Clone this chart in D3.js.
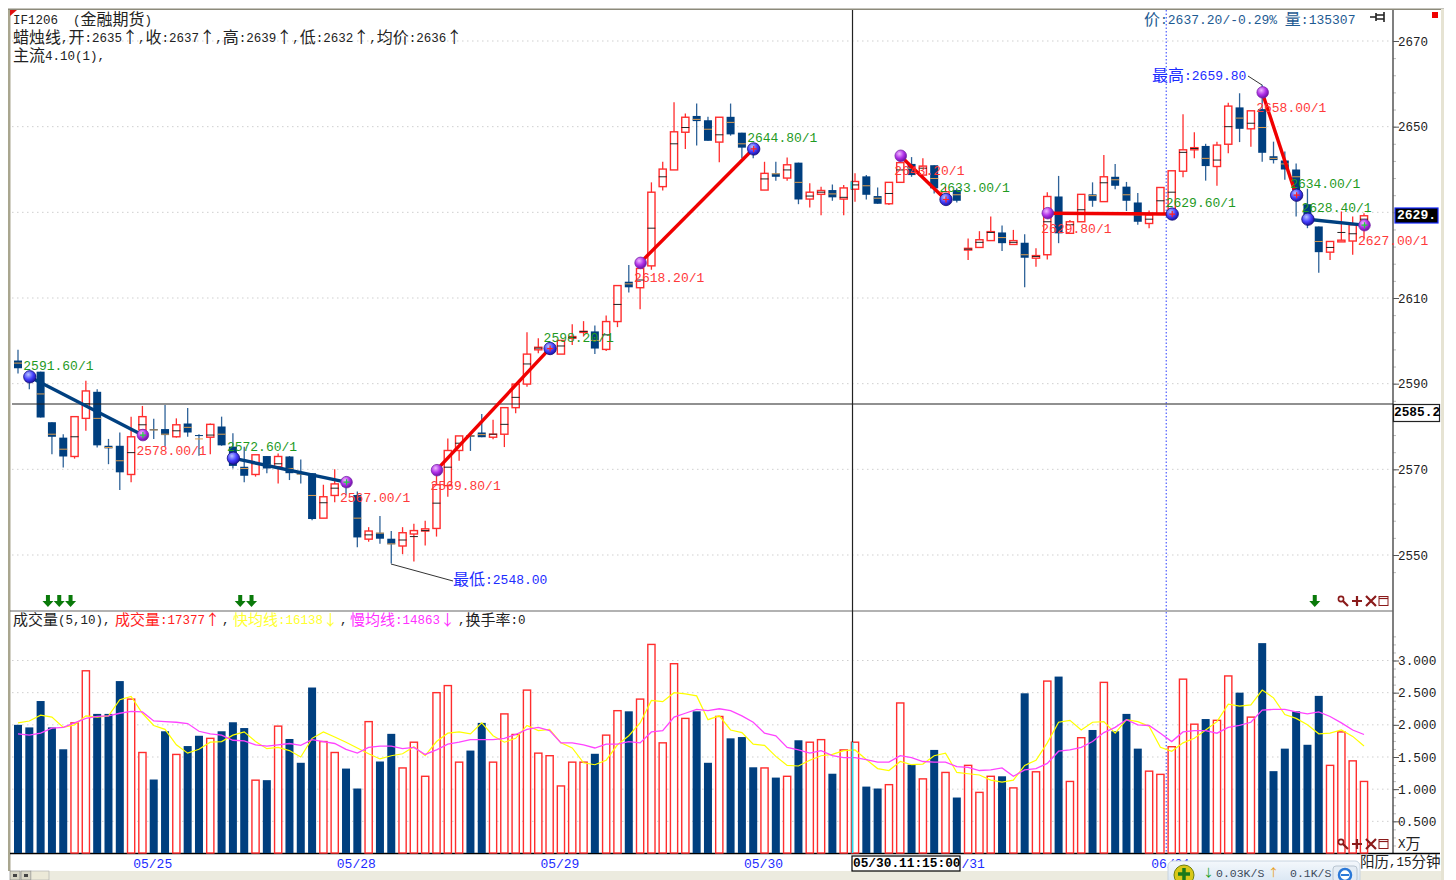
<!DOCTYPE html>
<html><head><meta charset="utf-8">
<script src="https://cdnjs.cloudflare.com/ajax/libs/d3/7.8.5/d3.min.js"></script>
<style>html,body{margin:0;padding:0;background:#fff}svg{display:block}</style>
</head><body><svg id="c" width="1456" height="880"></svg>
<script>
const highs=[2597.9,2592.8,2592.8,2581.0,2578.2,2582.3,2590.7,2588.7,2577.1,2578.6,2582.3,2584.8,2581.8,2585.0,2581.9,2584.3,2578.2,2580.7,2582.3,2578.4,2575.3,2573.4,2573.1,2573.7,2573.1,2572.3,2569.1,2566.4,2570.0,2568.3,2564.8,2556.5,2559.1,2555.6,2556.5,2557.3,2558.0,2568.7,2577.2,2577.8,2578.4,
2582.9,2581.6,2584.4,2589.9,2602.0,2600.6,2599.4,2600.1,2603.9,2604.6,2603.6,2605.9,2612.9,2617.7,2617.3,2637.0,2641.8,2655.7,2653.1,2655.4,2652.3,2652.2,2655.4,2648.6,2646.1,2641.8,2641.8,2642.8,2641.6,2636.8,2636.0,2636.5,2636.4,2639.1,2638.7,2635.8,2637.0,
2643.2,2642.9,2642.6,2641.0,2636.0,2635.6,2623.9,2625.6,2629.0,2626.9,2625.9,2624.9,2621.6,2634.7,2638.5,2628.2,2634.2,2637.0,2643.4,2641.3,2637.1,2634.5,2630.4,2635.8,2639.7,2652.9,2648.7,2646.0,2646.5,2655.6,2657.8,2653.7,2659.8,2646.5,2644.2,2641.4,2635.5,2626.7,2623.2,2630.2,2629.0,2629.8];
const lows=[2592.4,2588.7,2582.1,2573.5,2570.4,2572.5,2579.0,2575.1,2571.2,2565.2,2567.0,2576.9,2577.1,2575.3,2577.4,2577.6,2573.2,2573.5,2575.5,2570.2,2567.0,2568.3,2569.1,2566.7,2567.5,2566.7,2558.1,2558.6,2562.3,2564.0,2551.8,2553.1,2552.6,2548.0,2550.2,2548.5,2552.2,2554.3,2563.6,2572.0,2574.3,
2577.5,2577.0,2575.2,2583.1,2589.3,2597.1,2596.7,2596.9,2599.0,2601.0,2596.9,2597.6,2603.2,2611.3,2607.4,2616.6,2635.1,2639.9,2644.8,2645.6,2646.7,2641.7,2647.9,2642.6,2642.6,2635.2,2637.4,2637.4,2631.9,2631.1,2629.3,2632.7,2629.3,2632.5,2633.0,2632.0,2631.7,
2637.0,2638.3,2638.6,2634.4,2631.7,2632.3,2618.9,2621.8,2623.4,2621.0,2622.4,2612.5,2617.3,2619.0,2622.8,2625.0,2627.8,2631.3,2632.5,2635.4,2630.3,2627.1,2626.3,2629.5,2629.0,2638.2,2642.6,2637.4,2636.2,2643.8,2646.4,2645.3,2641.8,2641.4,2637.6,2629.0,2626.3,2615.9,2618.9,2623.1,2620.1,2623.9];
const tops=[2595.4,2592.4,2592.8,2581.0,2577.4,2582.3,2588.3,2588.1,2575.5,2575.5,2577.6,2582.3,2579.4,2579.4,2580.4,2580.7,2578.0,2580.5,2580.0,2575.3,2570.6,2573.4,2573.1,2573.0,2573.0,2569.2,2569.1,2563.6,2566.6,2567.5,2564.0,2555.6,2555.2,2553.8,2555.2,2555.7,2556.1,2566.4,2574.4,2577.8,2578.0,
2578.6,2578.2,2584.4,2589.9,2596.9,2598.5,2598.8,2600.1,2601.0,2602.2,2602.2,2604.5,2612.9,2613.8,2616.9,2634.7,2640.1,2648.8,2652.2,2652.5,2651.5,2652.2,2652.3,2648.6,2645.7,2639.1,2639.1,2641.1,2641.6,2634.7,2635.1,2635.2,2635.7,2637.2,2638.4,2633.8,2637.0,
2641.6,2641.3,2640.8,2641.0,2634.8,2635.2,2621.6,2623.6,2625.5,2625.3,2623.4,2622.9,2619.9,2633.7,2633.7,2627.8,2634.2,2634.2,2638.3,2638.3,2636.0,2632.3,2629.4,2635.8,2639.7,2644.6,2645.1,2645.5,2645.7,2654.8,2654.5,2653.7,2654.1,2643.1,2642.1,2640.0,2631.9,2626.7,2623.2,2623.5,2627.1,2629.2];
const bottoms=[2593.6,2590.9,2582.1,2577.6,2573.0,2573.0,2581.9,2575.6,2574.9,2569.3,2568.8,2579.2,2579.1,2578.0,2577.6,2578.6,2577.8,2577.5,2575.6,2570.8,2568.5,2568.8,2570.2,2570.6,2569.1,2568.8,2558.4,2558.6,2563.9,2566.0,2554.1,2553.7,2553.8,2552.5,2552.1,2554.9,2555.6,2556.2,2566.2,2574.4,2577.6,
2577.5,2577.5,2578.2,2584.4,2589.9,2597.9,2597.5,2596.9,2600.6,2602.0,2598.2,2598.0,2604.5,2612.5,2612.4,2617.5,2636.0,2639.9,2648.7,2651.3,2646.7,2646.4,2648.2,2645.1,2643.8,2635.2,2638.3,2638.0,2633.0,2633.1,2634.2,2633.5,2633.1,2635.4,2634.1,2632.0,2632.0,
2637.0,2638.7,2638.7,2635.6,2632.9,2632.7,2621.2,2621.8,2623.4,2622.8,2622.5,2619.4,2619.3,2620.1,2625.1,2625.1,2627.8,2632.7,2632.5,2636.2,2632.7,2627.8,2627.4,2629.5,2629.8,2639.6,2644.6,2640.8,2640.7,2645.9,2649.5,2649.5,2643.9,2642.2,2640.0,2635.2,2628.6,2620.7,2620.7,2623.1,2623.3,2627.8];
const avgPrice=[2594.8,2592.0,2587.6,2578.2,2574.7,2577.6,2585.3,2581.9,2575.1,2572.0,2573.9,2580.4,2579.2,2578.2,2579.0,2579.8,2577.1,2578.0,2578.2,2573.6,2570.2,2571.3,2571.0,2571.3,2570.2,2568.9,2563.9,2562.2,2565.6,2566.6,2558.6,2554.7,2555.1,2552.6,2553.5,2554.3,2555.7,2562.1,2570.5,2576.1,2577.8,
2578.1,2578.2,2580.5,2586.8,2594.6,2598.3,2598.3,2598.8,2600.8,2602.2,2600.1,2601.4,2608.5,2613.3,2614.2,2626.3,2638.3,2646.0,2649.8,2651.7,2649.4,2648.1,2651.0,2646.0,2645.0,2637.8,2639.0,2639.9,2637.0,2633.8,2634.7,2634.3,2633.5,2636.4,2636.2,2633.3,2634.4,
2639.9,2640.3,2640.3,2637.9,2634.1,2634.1,2621.4,2623.0,2625.3,2624.1,2623.0,2620.1,2619.7,2627.8,2629.8,2627.1,2630.6,2633.9,2636.9,2637.6,2634.1,2629.4,2628.4,2632.7,2634.7,2644.0,2644.9,2642.6,2642.2,2650.0,2652.0,2650.8,2649.8,2642.6,2641.3,2638.3,2629.4,2623.2,2621.8,2625.3,2625.0,2628.4];
const isUp=[0,0,0,0,0,1,1,0,0,0,1,1,0,0,1,0,0,1,0,0,0,1,0,1,0,0,0,1,1,0,0,1,0,0,1,1,1,1,1,1,0,
0,1,1,1,1,1,1,1,1,1,0,1,1,0,1,1,1,1,1,0,0,1,0,0,0,1,0,1,0,1,1,0,1,1,0,0,1,
1,0,1,0,1,0,1,1,1,0,1,0,1,1,0,1,1,0,1,0,0,0,1,1,1,1,1,0,1,1,0,1,0,0,0,0,0,0,1,1,1,1];
const volumes=[2.00,1.96,2.37,1.96,1.62,2.03,2.84,2.17,2.17,2.68,2.40,1.57,1.15,1.90,1.54,1.67,1.83,1.79,1.90,2.04,1.95,1.14,1.14,1.98,1.78,1.41,2.58,1.74,1.57,1.32,1.01,2.05,1.43,1.86,1.33,1.73,1.20,2.50,2.61,1.42,1.60,
2.03,1.42,2.17,1.85,2.54,1.56,1.52,1.05,1.42,1.42,1.55,1.84,2.22,2.21,2.40,3.25,1.72,2.95,2.10,2.21,1.41,2.13,1.79,1.81,1.34,1.33,1.18,1.20,1.76,1.73,1.77,1.24,1.61,1.73,1.04,1.01,1.07,2.34,1.38,1.16,1.61,1.26,0.87,
1.37,0.95,1.20,1.20,1.02,2.49,1.27,2.68,2.75,1.12,1.80,1.92,2.66,1.90,2.17,1.63,1.28,1.23,1.66,2.71,2.01,2.09,2.07,2.76,2.50,2.12,3.27,1.28,1.63,2.21,1.69,2.45,1.37,1.89,1.44,1.12];
const fastMA=[2.03,2.06,2.15,2.12,1.96,2.00,2.14,2.12,2.14,2.39,2.44,2.18,1.99,1.93,1.69,1.56,1.62,1.73,1.74,1.84,1.89,1.74,1.63,1.65,1.60,1.50,1.79,1.89,1.81,1.73,1.64,1.55,1.47,1.52,1.55,1.66,1.52,1.74,1.87,1.89,1.86,
2.03,1.83,1.73,1.79,1.99,1.91,1.93,1.72,1.64,1.41,1.38,1.45,1.69,1.83,2.03,2.38,2.36,2.50,2.48,2.45,2.08,2.14,1.92,1.88,1.70,1.68,1.51,1.37,1.36,1.45,1.52,1.54,1.60,1.61,1.46,1.32,1.29,1.43,1.38,1.39,1.52,1.56,1.26,
1.24,1.22,1.14,1.11,1.14,1.37,1.45,1.72,2.04,2.07,1.92,2.04,2.05,1.87,2.08,2.05,1.98,1.65,1.59,1.72,1.79,1.92,2.05,2.32,2.29,2.31,2.54,2.42,2.16,2.10,2.00,1.86,1.87,1.92,1.82,1.67];
const slowMA=[1.86,1.84,1.87,1.95,1.96,2.03,2.10,2.13,2.14,2.18,2.21,2.20,2.06,2.05,2.04,2.02,1.90,1.86,1.84,1.76,1.75,1.69,1.67,1.69,1.71,1.68,1.77,1.74,1.71,1.62,1.56,1.65,1.67,1.67,1.63,1.65,1.54,1.61,1.70,1.73,1.77,
1.77,1.77,1.79,1.85,1.93,1.96,1.91,1.72,1.72,1.69,1.64,1.70,1.70,1.74,1.72,1.89,1.91,2.12,2.18,2.24,2.22,2.25,2.22,2.14,2.04,1.87,1.83,1.65,1.61,1.56,1.60,1.52,1.49,1.49,1.46,1.42,1.42,1.52,1.49,1.43,1.42,1.42,1.35,
1.34,1.29,1.30,1.33,1.20,1.30,1.32,1.40,1.59,1.61,1.65,1.74,1.88,1.96,2.08,2.00,1.99,1.87,1.74,1.89,1.91,1.91,1.87,1.96,1.99,2.04,2.23,2.24,2.24,2.20,2.17,2.20,2.13,2.03,1.92,1.85];
const priceTicks=[2550,2570,2590,2610,2650,2670];
const priceGrid=[2550,2570,2590,2610,2630,2650,2670];
const volTicks=[0.5,1,1.5,2,2.5,3];
const dateIdx=[12,30,48,66,84,102];
const dateLabels=["05/25","05/28","05/29","05/30","/31","06/01"];
const seg=[{a:1,pa:2591.6,b:11,pb:2578.0,up:0},{a:19,pa:2572.6,b:29,pb:2567.0,up:0},{a:37,pa:2569.8,b:47,pb:2598.2,up:1},{a:55,pa:2618.2,b:65,pb:2644.8,up:1},{a:78,pa:2643.2,b:82,pb:2633.0,up:1},{a:91,pa:2629.8,b:102,pb:2629.6,up:1},{a:110,pa:2658.0,b:113,pb:2634.0,up:1},{a:114,pa:2628.4,b:119,pb:2627.0,up:0}];
const arrowIdx=[3,4,5,20,21,115];
const selectedIdx=74, blueCursorIdx=102, crossPrice=2585.2, lastPrice=2629.4;

const svg=d3.select("#c");
const x=d3.scaleLinear().domain([0,119]).range([18,1364]);
const yP=d3.scaleLinear().domain([2550,2670]).range([555,41]);
const yV=d3.scaleLinear().domain([0,3]).range([853.5,660.5]);
const RED="#ff2d2d",NAVY="#003f7f",MONO="'Liberation Mono',monospace",CJK="'Noto Sans CJK SC',sans-serif";
function txt(sel,s,px,py,o={}){
  const size=o.size||12.5, t=sel.append("text").attr("x",px).attr("y",py).attr("fill",o.fill||"#222").attr("font-weight",o.bold?"bold":"normal").attr("text-anchor",o.anchor||"start").attr("dominant-baseline","middle");
  (s.match(/[\u4e00-\u9fff\u2191\u2193]+|[^\u4e00-\u9fff\u2191\u2193]+/g)||[]).forEach(r=>{
    const c=/[\u4e00-\u9fff\u2191\u2193]/.test(r);
    t.append("tspan").attr("font-family",c?CJK:MONO).attr("font-size",c?(o.cjk||16):size).attr("xml:space","preserve").text(r);
  });
  return t;
}
const defs=svg.append("defs");
[["gBlue","#b8c4ff","#4640ff","#1a10a0"],["gPurple","#f0b8ff","#b030e8","#6a10a0"]].forEach(([id,a,b,c])=>{
  const g=defs.append("radialGradient").attr("id",id).attr("cx","38%").attr("cy","32%").attr("r","70%");
  g.append("stop").attr("offset","0%").attr("stop-color",a);
  g.append("stop").attr("offset","55%").attr("stop-color",b);
  g.append("stop").attr("offset","100%").attr("stop-color",c);
});
// chrome
svg.append("rect").attr("x",8).attr("y",9).attr("width",2.5).attr("height",862).attr("fill","#a9a68f");
svg.append("rect").attr("x",8).attr("y",8.5).attr("width",1436).attr("height",1.5).attr("fill","#8c8a7a");
svg.append("rect").attr("x",1441).attr("y",9).attr("width",3).attr("height",871).attr("fill","#e6e3d3");
svg.append("rect").attr("x",10).attr("y",871).attr("width",1431).attr("height",9).attr("fill","#ecebdf");
svg.append("path").attr("d","M10 10H17L10 16Z").attr("fill","#e01010");
svg.append("rect").attr("x",1432).attr("y",12).attr("width",6).attr("height",6).attr("fill","#f00000");
[[10,"#444"],[21,"#444"]].forEach(([bx,c])=>{svg.append("rect").attr("x",bx).attr("y",871).attr("width",10).attr("height",9).attr("fill","#d8d6c6").attr("stroke","#777").attr("stroke-width",.6);svg.append("rect").attr("x",bx+3).attr("y",874).attr("width",4).attr("height",3).attr("fill",c);});
svg.append("rect").attr("x",31).attr("y",871).attr("width",18).attr("height",9).attr("fill","#ece9d8").attr("stroke","#aaa").attr("stroke-width",.6);
// grids
const dot="1.5 3.5";
svg.append("g").selectAll("line").data(priceGrid).join("line").attr("x1",12).attr("x2",1393).attr("y1",d=>yP(d)).attr("y2",d=>yP(d)).attr("stroke","#cfcfcf").attr("stroke-dasharray",dot);
svg.append("g").selectAll("line").data(volTicks).join("line").attr("x1",12).attr("x2",1393).attr("y1",d=>yV(d)).attr("y2",d=>yV(d)).attr("stroke","#cfcfcf").attr("stroke-dasharray",dot);
// axes
const ax=svg.append("g").attr("transform","translate(1393,0)");
ax.call(d3.axisRight(yP).tickValues(d3.range(2546,2674,4)).tickSize(3).tickFormat(""));
ax.call(g=>{g.select(".domain").remove();g.selectAll("line").attr("stroke","#bbb");});
const ax2=svg.append("g").attr("transform","translate(1393,0)");
ax2.call(d3.axisRight(yP).tickValues(priceTicks).tickSize(6).tickPadding(0).tickFormat(d3.format("d")));
ax2.call(g=>{g.select(".domain").remove();g.selectAll("line").attr("stroke","#555");g.selectAll("text").attr("font-family",MONO).attr("font-size",12.5).attr("fill","#222").attr("x",5);});
const ax3=svg.append("g").attr("transform","translate(1393,0)");
ax3.call(d3.axisRight(yV).tickValues(d3.range(0.125,3.5,0.125)).tickSize(3).tickFormat(""));
ax3.call(g=>{g.select(".domain").remove();g.selectAll("line").attr("stroke","#bbb");});
const ax4=svg.append("g").attr("transform","translate(1393,0)");
ax4.call(d3.axisRight(yV).tickValues(volTicks).tickSize(6).tickFormat(d3.format(".3f")));
ax4.call(g=>{g.select(".domain").remove();g.selectAll("line").attr("stroke","#555");g.selectAll("text").attr("font-family",MONO).attr("font-size",12.8).attr("fill","#222").attr("x",5);});
const L=(a,b,c,d,col,w,dash)=>svg.append("line").attr("x1",a).attr("y1",b).attr("x2",c).attr("y2",d).attr("stroke",col).attr("stroke-width",w||1).attr("stroke-dasharray",dash||null);
L(1393,10,1393,853,"#555",1.5);
L(10,611,1393,611,"#666",1.2);
L(10,853.5,1440,853.5,"#000",1.5);
// blue cursor
L(x(blueCursorIdx)-5.5,10,x(blueCursorIdx)-5.5,853,"#2a3cff",1,"1.5 2");
// volume bars
const idx=d3.range(volumes.length);
svg.append("g").selectAll("rect").data(idx).join("rect")
 .attr("x",i=>x(i)-(isUp[i]?3.6:4)).attr("width",i=>isUp[i]?7.2:8)
 .attr("y",i=>yV(volumes[i])).attr("height",i=>853-yV(volumes[i]))
 .attr("fill",i=>isUp[i]?"#fff":NAVY).attr("stroke",i=>isUp[i]?RED:"#9db6d2")
 .attr("stroke-width",i=>isUp[i]?1.4:0);
const ln=d3.line().x((d,i)=>x(i)).y(d=>yV(d));
svg.append("path").attr("d",ln(fastMA)).attr("fill","none").attr("stroke","#ffff00").attr("stroke-width",1.2);
svg.append("path").attr("d",ln(slowMA)).attr("fill","none").attr("stroke","#ff44ff").attr("stroke-width",1.3);
// candles
const cg=svg.append("g");
cg.selectAll("line").data(idx).join("line").attr("x1",i=>x(i)).attr("x2",i=>x(i)).attr("y1",i=>yP(highs[i])).attr("y2",i=>yP(lows[i])).attr("stroke",i=>isUp[i]?RED:"#2f6399").attr("stroke-width",1.3);
cg.selectAll("rect").data(idx).join("rect").attr("x",i=>x(i)-(isUp[i]?3.6:4)).attr("width",i=>isUp[i]?7.2:8)
 .attr("y",i=>yP(tops[i])).attr("height",i=>Math.max(1,yP(bottoms[i])-yP(tops[i])))
 .attr("fill",i=>isUp[i]?"#fff":NAVY).attr("stroke",i=>isUp[i]?RED:"none").attr("stroke-width",1.4);
cg.selectAll("line.a").data(idx).join("line").attr("class","a").attr("x1",i=>x(i)-4).attr("x2",i=>x(i)+4).attr("y1",i=>yP(avgPrice[i])).attr("y2",i=>yP(avgPrice[i])).attr("stroke",i=>isUp[i]?"#222":"#e0a050").attr("stroke-width",1);
// selected candle marks
L(x(selectedIdx)-3.5,yP(tops[selectedIdx]),x(selectedIdx)-3.5,yP(bottoms[selectedIdx]),"#22e0f0",2);
// crosshair
L(12,404,1393,404,"#222",1.2);
L(x(selectedIdx)-2.5,10,x(selectedIdx)-2.5,853,"#222",1.2);
L(x(selectedIdx)-2.5,yV(volumes[selectedIdx]),x(selectedIdx)-2.5,853,"#22e0f0",1.6);
// segments
seg.forEach(s=>{
  L(x(s.a),yP(s.pa),x(s.b),yP(s.pb),s.up?"#f00000":"#004080",3.4);
});
seg.forEach(s=>{
  [[s.a,s.pa,1],[s.b,s.pb,0]].forEach(([i,p,start])=>{
    const blue=(start&&!s.up)||(!start&&s.up);
    const g=svg.append("g").attr("transform",`translate(${x(i)+.5},${yP(p)})`);
    g.append("circle").attr("r",blue?6.2:5.8).attr("fill",`url(#${blue?"gBlue":"gPurple"})`).attr("stroke",blue?"#14107a":"#7a2aa8").attr("stroke-width",.8);
    if(!start){const c=s.up?"#ff2020":"#20d040";g.append("path").attr("d","M-3 0H3M0 -3V3").attr("stroke",c).attr("stroke-width",1.2);}
  });
});
// segment labels
seg.forEach(s=>{
  [[s.a,s.pa,1],[s.b,s.pb,0]].forEach(([i,p,start])=>{
    const green=(start&&!s.up)||(!start&&s.up);
    txt(svg,p.toFixed(2)+"/1",x(i)-6,yP(p)+(green?-10:16.5),{fill:green?"#1f9a1f":"#ff3a3a",size:13});
  });
});
// arrows
svg.append("g").selectAll("path").data(arrowIdx).join("path").attr("transform",i=>`translate(${x(i)-4},601)`).attr("d","M-2 -6H2V0H5.5L0 6L-5.5 0H-2Z").attr("fill","#0a7a0a");
// extremes
txt(svg,"最高:2659.80",1152,77,{fill:"#1c2cff",size:13,cjk:16});
L(1248,76,1262,85,"#333",1);
txt(svg,"最低:2548.00",453,581,{fill:"#1c2cff",size:13,cjk:16});
L(391,564,453,581,"#333",1);
// headers
txt(svg,"IF1206  (金融期货)",13,21);
txt(svg,"蜡烛线,开:2635↑,收:2637↑,高:2639↑,低:2632↑,均价:2636↑",13,39,{});
txt(svg,"主流4.10(1),",13,57);
txt(svg,"价:2637.20/-0.29% 量:135307",1144,21,{fill:"#1d5a92",size:13});
// volume header
const vh=[["成交量(5,10),","#222"],["成交量:17377↑","#ff2020"],[",","#222"],["快均线:16138↓","#ffff30"],[",","#222"],["慢均线:14863↓","#ff30ff"],[",换手率:0","#222"]];
const vhx=[13,115,222,233,340,350,458];
vh.forEach(([t,c],k)=>txt(svg,t,vhx[k],621,{fill:c,cjk:15}));
// icons
[[601],[844]].forEach(([iy])=>{
  const g=svg.append("g").attr("transform",`translate(1337,${iy})`).attr("stroke","#8a1a1a").attr("fill","none").attr("stroke-width",2.2);
  g.append("circle").attr("cx",4).attr("cy",-2).attr("r",2.6).attr("stroke-width",1.6);
  g.append("path").attr("d","M6 0L11 5");
  g.append("path").attr("d","M15 0H25M20 -5V5");
  g.append("path").attr("d","M29 -5L39 5M39 -5L29 5");
  g.append("rect").attr("x",42).attr("y",-4.5).attr("width",9).attr("height",9).attr("stroke-width",1);
  g.append("path").attr("d","M42 -2.5H51").attr("stroke-width",1.2);
});
// pin
svg.append("path").attr("d","M1370 17H1376M1376 13V21M1376 15H1384V19H1376M1384 12V22").attr("stroke","#222").attr("stroke-width",1.6).attr("fill","none");
// x labels
svg.append("g").selectAll("text").data(dateIdx).join("text").attr("x",i=>x(i)-1+(dateLabels[dateIdx.indexOf(i)].length<4?6:0)).attr("y",865).attr("text-anchor","middle").attr("dominant-baseline","middle").attr("font-family",MONO).attr("font-size",13).attr("fill","#1c2cff").text((d,k)=>dateLabels[k]);
// tags
svg.append("rect").attr("x",852).attr("y",856).attr("width",108).attr("height",15).attr("fill","#fff").attr("stroke","#000").attr("stroke-width",1.2);
txt(svg,"05/30.11:15:00",853,864,{fill:"#000",bold:true,size:12.8});
svg.append("rect").attr("x",1393.5).attr("y",404.5).attr("width",46).attr("height",17).attr("fill","#fff").attr("stroke","#222").attr("stroke-width",1.2);
txt(svg,crossPrice.toFixed(1),1394,413,{fill:"#000",bold:true,size:12.8});
svg.append("rect").attr("x",1395).attr("y",208).attr("width",43).attr("height",15).attr("fill","#000").attr("stroke","#1428ff").attr("stroke-width",1.2);
txt(svg,Math.floor(lastPrice)+".",1397,216,{fill:"#fff",bold:true,size:13});
txt(svg,"X万",1398,845,{size:12.5,cjk:15});
txt(svg,"阳历,15分钟",1360,863,{size:12.5,cjk:14.5});
// network widget
const wg=defs.append("linearGradient").attr("id","gW").attr("x1",0).attr("x2",0).attr("y1",0).attr("y2",1);
wg.append("stop").attr("offset","0%").attr("stop-color","#f4f8fc");wg.append("stop").attr("offset","100%").attr("stop-color","#d6e4f2");
svg.append("rect").attr("x",1168).attr("y",861).attr("width",192).attr("height",24).attr("rx",5).attr("fill","url(#gW)").attr("stroke","#c8d4e0");
svg.append("circle").attr("cx",1184).attr("cy",875).attr("r",10).attr("fill","#d8c818").attr("stroke","#708010");
svg.append("path").attr("d","M1178 874H1190M1184 868V880").attr("stroke","#1a7a1a").attr("stroke-width",3.5);
txt(svg,"↓",1203,873.5,{fill:"#18a018",cjk:11});
txt(svg,"0.03K/S",1216,873.5,{fill:"#3c4a5a",size:11.5});
txt(svg,"↑",1268,873.5,{fill:"#e8a020",cjk:11});
txt(svg,"0.1K/S",1290,873.5,{fill:"#3c4a5a",size:11.5});
svg.append("rect").attr("x",1333).attr("y",866).attr("width",24).attr("height",16).attr("rx",3).attr("fill","#e4ecf4").attr("stroke","#b8c4d0");
svg.append("circle").attr("cx",1345).attr("cy",875).attr("r",6).attr("fill","#fff").attr("stroke","#2a78d8").attr("stroke-width",2.5);
svg.append("path").attr("d","M1341 875H1349").attr("stroke","#2a78d8").attr("stroke-width",2);
</script></body></html>
